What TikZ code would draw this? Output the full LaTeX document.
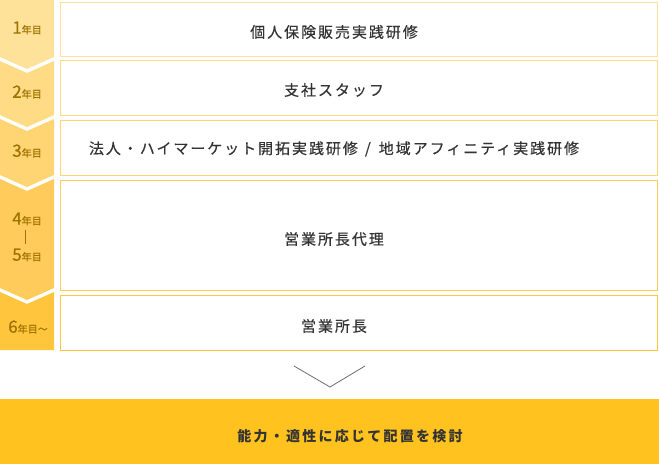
\documentclass[tikz,border=0pt]{standalone}
\usepackage{fontspec}
\setmainfont{Noto Sans CJK JP}
\newfontfamily\rar[LetterSpace=13,FakeBold=0.4]{Noto Sans CJK JP}
\newfontfamily\rarb[LetterSpace=16]{Noto Sans CJK JP}
\newfontfamily\gros[FakeBold=0.6]{Noto Sans CJK JP}
\usetikzlibrary{positioning}

\begin{document}
\begin{tikzpicture}[x=1pt, y=-1pt,
        etapa/.style={font=\rar\fontsize{15}{17}\selectfont, text=gri, inner sep=0pt},
        an/.style={font=\gros\fontsize{10}{11}\selectfont, text=auriu, inner sep=0pt}]
        \def\varf{12}
        \definecolor{galben 1}{RGB}{255,226,154}
        \definecolor{galben 2}{RGB}{255,219,133}
        \definecolor{galben 3}{RGB}{255,213,116}
        \definecolor{galben 4}{RGB}{255,204,92}
        \definecolor{galben 5}{RGB}{255,197,61}
        \definecolor{galben tare}{RGB}{255,194,31}
        \definecolor{auriu}{RGB}{160,115,0}
        \definecolor{gri}{RGB}{51,51,51}
        \definecolor{gri deschis}{RGB}{110,110,110}

        \useasboundingbox (0,0) rectangle (659,464);

        % sageti din stanga
        \fill [fill=galben 1]
            (0,0) -- (54,0) -- (54,57) -- (27,57+\varf) -- (0,57) -- cycle;
        \fill [fill=galben 2]
            (0,61) -- (27,61+\varf) -- (54,61) -- (54,115) -- (27,115+\varf) -- (0,115) -- cycle;
        \fill [fill=galben 3]
            (0,119) -- (27,119+\varf) -- (54,119) -- (54,175) -- (27,175+\varf) -- (0,175) -- cycle;
        \fill [fill=galben 4]
            (0,179) -- (27,179+\varf) -- (54,179) -- (54,288) -- (27,288+\varf) -- (0,288) -- cycle;
        \fill [fill=galben 5]
            (0,292) -- (27,292+\varf) -- (54,292) -- (54,350) -- (0,350) -- cycle;

        % casete
        \draw [draw=galben 1, line width=1pt] (60.5,2.5) rectangle (657.5,56.5);
        \draw [draw=galben 2, line width=1pt] (60.5,60.5) rectangle (657.5,115.5);
        \draw [draw=galben 3, line width=1pt] (60.5,120.5) rectangle (657.5,175.5);
        \draw [draw=galben 4, line width=1pt] (60.5,180.5) rectangle (657.5,290.5);
        \draw [draw=galben 5, line width=1pt] (60.5,295.5) rectangle (657.5,350.5);

        \node [an] (an1) at (27,28) {{\fontsize{17}{17}\selectfont 1}年目};
        \node [an] (an2) at (27,92) {{\fontsize{17}{17}\selectfont 2}年目};
        \node [an] (an3) at (27,151) {{\fontsize{17}{17}\selectfont 3}年目};
        \node [an] (an4) at (27,219) {{\fontsize{17}{17}\selectfont 4}年目};
        \node [an] (an5) at (27,255) {{\fontsize{17}{17}\selectfont 5}年目};
        \node [an] (an6) at (28,327) {{\fontsize{17}{17}\selectfont 6}年目～};
        \draw [draw=auriu, line width=0.9pt] (25.5,230) -- (25.5,244);

        \node [etapa] (etapa1) at (334,32) {個人保険販売実践研修};
        \node [etapa] (etapa2) at (334,90) {支社スタッフ};
        \node [etapa] (etapa3) at (334,149) {法人・ハイマーケット開拓実践研修\hspace{7pt}/\hspace{8pt}地域アフィニティ実践研修};
        \node [etapa] (etapa4) at (334,239) {営業所長代理};
        \node [etapa] (etapa5) at (334,326) {営業所長};

        % sageata in jos
        \draw [draw=gri deschis, line width=0.8pt] (294,366) -- (330,387) -- (365,366);

        \fill [fill=galben tare] (0,399) rectangle (659,464);
        \node [etapa, font=\rarb\bfseries\fontsize{14}{16}\selectfont] (final) at (350,436) {能力・適性に応じて配置を検討};
    \end{tikzpicture}
\end{document}
